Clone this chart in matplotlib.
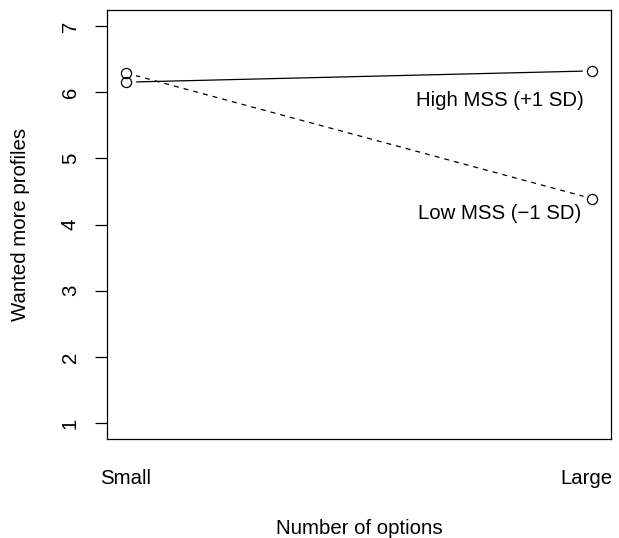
import matplotlib
matplotlib.use("Agg")
import matplotlib.pyplot as plt
import matplotlib.transforms as mtransforms

# data
conditions = ["Small", "Large"]
x_pos = [1, 2]
high_mss = [6.15, 6.32]
low_mss = [6.29, 4.39]
series_labels = ["High MSS (+1 SD)", "Low MSS (\u22121 SD)"]
y_ticks = [1, 2, 3, 4, 5, 6, 7]

plt.rcParams["font.family"] = ["Liberation Sans", "DejaVu Sans"]
FS = 14.7

fig = plt.figure(figsize=(6.19, 5.38), dpi=100)
ax = fig.add_axes([107 / 619, 99 / 538, 504 / 619, 429 / 538])

# lines, white gaps round the points (R type="b"), then hollow circles
ax.plot(x_pos, high_mss, color="black", lw=0.9, zorder=1)
ax.plot(x_pos, low_mss, color="black", lw=0.9, dashes=(4, 4), zorder=1)
for ys in (high_mss, low_mss):
    ax.plot(x_pos, ys, ls="none", marker="o", ms=14, mfc="white",
            mec="none", zorder=2)
for ys in (high_mss, low_mss):
    ax.plot(x_pos, ys, ls="none", marker="o", ms=7.3, mfc="none",
            mec="black", mew=0.9, zorder=3)

# series labels
ax.annotate(series_labels[0], xy=(x_pos[1], high_mss[1]), xytext=(-9, -30),
            textcoords="offset pixels", ha="right", va="center", fontsize=FS)
ax.annotate(series_labels[1], xy=(x_pos[1], low_mss[1]), xytext=(-11, -15),
            textcoords="offset pixels", ha="right", va="center", fontsize=FS)

ax.set_xlim(0.96, 2.04)
ax.set_ylim(0.76, 7.24)

ax.set_yticks(y_ticks)
ax.set_yticklabels([str(t) for t in y_ticks], rotation=90, va="center",
                   fontsize=FS)
ax.tick_params(axis="y", direction="out", length=8.5, width=0.9, pad=11)
ax.set_xticks([])

# x category labels below the box, no tick marks
trans = mtransforms.blended_transform_factory(ax.transData, ax.transAxes)
ax.text(x_pos[0], -0.105, conditions[0], transform=trans, ha="center",
        va="baseline", fontsize=FS)
ax.text(x_pos[1] - 0.013, -0.105, conditions[1], transform=trans,
        ha="center", va="baseline", fontsize=FS)

for sp in ax.spines.values():
    sp.set_linewidth(0.9)

fig.text(359 / 619, 4 / 538, "Number of options", ha="center",
         va="baseline", fontsize=FS)
fig.text(21 / 619, (538 - 224.5) / 538, "Wanted more profiles",
         rotation=90, ha="center", va="center", fontsize=FS)

fig.savefig("out.png", dpi=100)
